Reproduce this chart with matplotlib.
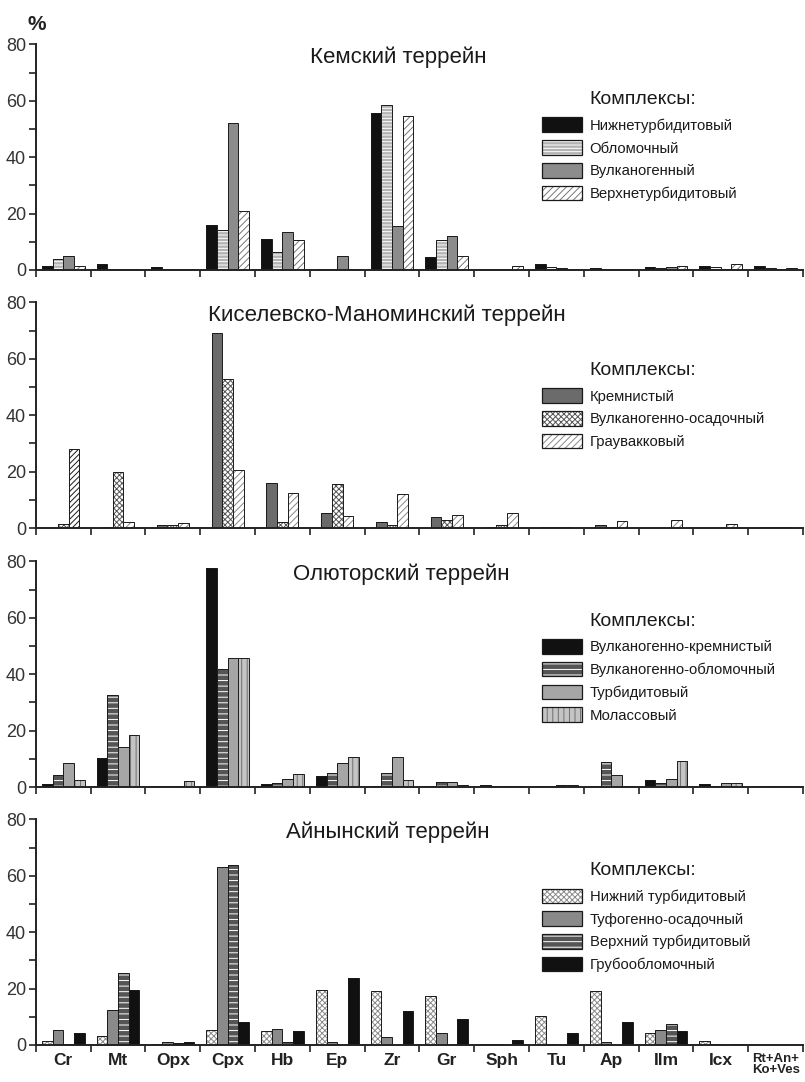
import numpy as np
import matplotlib.pyplot as plt
from matplotlib.patches import Patch
from matplotlib.ticker import MultipleLocator

plt.rcParams['font.family'] = ['Liberation Sans', 'DejaVu Sans']
plt.rcParams['hatch.linewidth'] = 0.7

minerals = ["Cr", "Mt", "Opx", "Cpx", "Hb", "Ep", "Zr", "Gr", "Sph", "Tu",
            "Ap", "Ilm", "Icx", "Rt+An+\nKo+Ves"]

# Кемский террейн
kem_names = ["Нижнетурбидитовый", "Обломочный", "Вулканогенный", "Верхнетурбидитовый"]
kem_lower = [1.5, 2.0, 1.0, 16, 11, 0.3, 55.5, 4.5, 0.2, 2.1, 0.6, 1.0, 1.5, 1.5]
kem_oblom = [4.0, 0.3, 0.3, 14, 6.5, 0.3, 58.5, 10.7, 0.2, 1.0, 0.3, 0.6, 1.1, 0.6]
kem_vulk = [5.0, 0.3, 0.3, 52, 13.5, 5.0, 15.5, 12.1, 0.2, 0.8, 0.3, 1.0, 0.4, 0.2]
kem_upper = [1.5, 0.3, 0.3, 21, 10.5, 0.2, 54.5, 5.0, 1.4, 0.3, 0.3, 1.5, 2.1, 0.8]

# Киселевско-Маноминский террейн
kis_names = ["Кремнистый", "Вулканогенно-осадочный", "Граувакковый"]
kis_krem = [0.0, 0.3, 1.0, 69, 16, 5.5, 2.1, 3.8, 0.2, 0.3, 1.0, 0.0, 0.0, 0.3]
kis_vulk = [1.3, 20, 1.2, 53, 2.0, 15.6, 1.2, 2.8, 1.0, 0.3, 0.5, 0.0, 0.0, 0.3]
kis_grau = [28, 2.3, 1.7, 20.6, 12.4, 4.2, 12, 4.7, 5.5, 0.3, 2.5, 3.0, 1.5, 0.4]

# Олюторский террейн
olu_names = ["Вулканогенно-кремнистый", "Вулканогенно-обломочный", "Турбидитовый", "Молассовый"]
olu_krem = [1.0, 10.3, 0.2, 77.5, 1.0, 3.8, 0.5, 0.3, 0.8, 0.2, 0.2, 2.5, 1.0, 0.2]
olu_oblom = [4.2, 32.6, 0.2, 42, 1.5, 5.0, 4.9, 1.8, 0.3, 0.3, 8.8, 1.3, 0.4, 0.2]
olu_turb = [8.7, 14.2, 0.3, 45.8, 2.7, 8.5, 10.6, 1.8, 0.3, 0.6, 4.2, 3.0, 1.3, 0.3]
olu_mol = [2.5, 18.6, 2.0, 45.8, 4.8, 10.5, 2.5, 0.6, 0.3, 0.6, 0.5, 9.3, 1.4, 0.5]

# Айнынский террейн
ain_names = ["Нижний турбидитовый", "Туфогенно-осадочный", "Верхний турбидитовый", "Грубообломочный"]
ain_lower = [1.4, 3.2, 0.3, 5.2, 5.0, 19.6, 19.2, 17.2, 0.5, 10.2, 19.3, 4.3, 1.4, 0.0]
ain_tuf = [5.2, 12.3, 1.0, 63.2, 5.7, 1.0, 3.0, 4.3, 0.2, 0.5, 1.0, 5.3, 0.3, 0.0]
ain_upper = [0.2, 25.5, 0.8, 63.8, 1.0, 0.0, 0.0, 0.0, 0.0, 0.0, 0.0, 7.5, 0.0, 0.0]
ain_coarse = [4.4, 19.5, 1.0, 8.2, 5.0, 23.8, 12, 9.2, 1.8, 4.2, 8.3, 4.8, 0.3, 0.0]

# styles: (face, hatch colour, hatch)
BLACK = ("#111111", "#111111", None)
panels = [
    ("Кемский террейн", kem_names, [kem_lower, kem_oblom, kem_vulk, kem_upper],
     [BLACK, ("#b3b3b3", "white", "-----"), ("#8c8c8c", "#8c8c8c", None),
      ("white", "#777777", "/////")], 0.472, 0.676),
    ("Киселевско-Маноминский террейн", kis_names, [kis_krem, kis_vulk, kis_grau],
     [("#6b6b6b", "#6b6b6b", None), ("white", "#555555", "xxxxxx"),
      ("white", "#888888", "/////")], 0.457, 0.619),
    ("Олюторский террейн", olu_names, [olu_krem, olu_oblom, olu_turb, olu_mol],
     [BLACK, ("#555555", "white", "---"), ("#a6a6a6", "#a6a6a6", None),
      ("#c4c4c4", "#6f6f6f", "|||")], 0.476, 0.656),
    ("Айнынский террейн", ain_names, [ain_lower, ain_tuf, ain_upper, ain_coarse],
     [("white", "#8a8a8a", "xxxxxx"), ("#8a8a8a", "#8a8a8a", None),
      ("#555555", "white", "---"), BLACK], 0.459, 0.693),
]

fig = plt.figure(figsize=(8.05, 10.82), dpi=100)
bottoms = [0.7505, 0.512, 0.2726, 0.0342]
x = np.arange(len(minerals)) + 0.5
w = 0.195
edge = "#1a1a1a"

for k, (title, names, data, styles, tx, ly) in enumerate(panels):
    ax = fig.add_axes([0.0445, bottoms[k], 0.953, 0.2085])
    n = len(data)
    handles = []
    for i, (vals, (face, hc, hatch)) in enumerate(zip(data, styles)):
        pos = x + (i - (n - 1) / 2) * w
        bars = ax.bar(pos, vals, w, color=face, edgecolor=hc, hatch=hatch, linewidth=0)
        ax.bar(pos, vals, w, fill=False, edgecolor=edge, linewidth=0.7)
        if k == 1 and i == 2:
            # the Cr bar of the greywacke complex has a darker, denser hatch
            bars.patches[0].set_edgecolor("#1a1a1a")
            bars.patches[0].set_hatch("//////")
        handles.append((Patch(facecolor=face, edgecolor=hc, hatch=hatch, linewidth=0),
                        Patch(fill=False, edgecolor=edge, linewidth=0.9)))

    ax.set_xlim(0, len(minerals))
    ax.set_ylim(0, 80)
    for s in ["top", "right"]:
        ax.spines[s].set_visible(False)
    for s in ["left", "bottom"]:
        ax.spines[s].set_linewidth(1.4)
        ax.spines[s].set_color("#222222")
    ax.set_xticks(np.arange(len(minerals) + 1))
    ax.set_xticks(x, minor=True)
    ax.tick_params(axis="x", which="major", length=5, width=1.2, color="#222222",
                   labelbottom=False)
    if k == 3:
        ax.set_xticklabels(minerals, minor=True, fontsize=12.5, fontweight="bold",
                           color="#222222")
        ax.tick_params(axis="x", which="minor", length=0, pad=6)
        lab = ax.get_xticklabels(minor=True)[-1]
        lab.set_fontsize(9.5)
        lab.set_linespacing(0.85)
    else:
        ax.tick_params(axis="x", which="minor", length=0, labelbottom=False)
    ax.set_yticks([0, 20, 40, 60, 80])
    ax.yaxis.set_minor_locator(MultipleLocator(10))
    ax.tick_params(axis="y", which="both", length=5, width=1.2, color="#222222",
                   labelsize=13, labelcolor="#333333", pad=2)

    ax.text(tx, 0.945, title, transform=ax.transAxes, ha="center", va="center",
            fontsize=16, color="#1a1a1a")
    ax.text(0.722, ly + 0.08, "Комплексы:", transform=ax.transAxes, ha="left",
            va="center", fontsize=14, color="#1a1a1a")
    leg = ax.legend(handles, names, loc="upper left", bbox_to_anchor=(0.66, ly),
                    frameon=False, fontsize=10.7, handlelength=2.65, handleheight=1.13,
                    labelspacing=0.5, handletextpad=0.55, borderpad=0,
                    borderaxespad=0)
    for t in leg.get_texts():
        t.set_color("#1a1a1a")

fig.text(0.046, 1 - 25 / 1082, "%", fontsize=15, fontweight="bold", ha="center",
         va="center", color="#222222")

fig.savefig("out.png", dpi=100, facecolor="white")
